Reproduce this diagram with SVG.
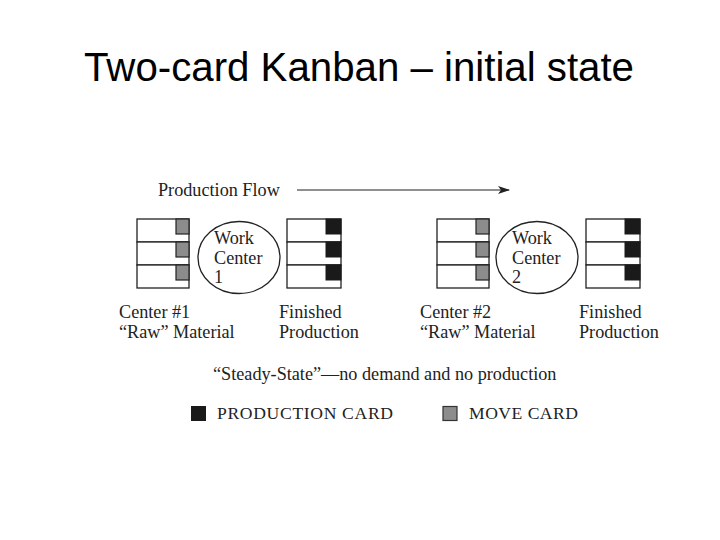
<svg xmlns="http://www.w3.org/2000/svg" width="720" height="540" viewBox="0 0 720 540">
<style>
.t{font-family:"Liberation Serif","Times New Roman",serif;font-size:18.2px;fill:#222}
.lg{font-size:17.6px}
.row{fill:#fff;stroke:#222;stroke-width:1.3}
.mv{fill:#8c8c8c;stroke:#222;stroke-width:1.2}
.pr{fill:#1a1a1a;stroke:#1a1a1a;stroke-width:1}
.wc{fill:#fff;stroke:#222;stroke-width:1.3}
</style>
<defs>
<marker id="ah" markerWidth="12" markerHeight="8" refX="11" refY="4" orient="auto" markerUnits="userSpaceOnUse">
<path d="M0,0 L12,4 L0,8 L3,4 Z" fill="#222"/>
</marker>
<g id="rawStack">
<rect class="row" x="0" y="0" width="52" height="23"/>
<rect class="row" x="0" y="23" width="52" height="23"/>
<rect class="row" x="0" y="46" width="52" height="23"/>
<rect class="mv" x="39" y="0" width="13" height="15"/>
<rect class="mv" x="39" y="23" width="13" height="15"/>
<rect class="mv" x="39" y="46" width="13" height="15"/>
</g>
<g id="finStack">
<rect class="row" x="0" y="0" width="54" height="23"/>
<rect class="row" x="0" y="23" width="54" height="23"/>
<rect class="row" x="0" y="46" width="54" height="23"/>
<rect class="pr" x="39" y="0" width="15" height="15"/>
<rect class="pr" x="39" y="23" width="15" height="15"/>
<rect class="pr" x="39" y="46" width="15" height="15"/>
</g>
</defs>
<rect width="720" height="540" fill="#fff"/>
<text x="359" y="81" text-anchor="middle" font-family="'Liberation Sans',Arial,sans-serif" font-size="40" fill="#000" textLength="550" lengthAdjust="spacingAndGlyphs">Two-card Kanban – initial state</text>

<g id="connectors">
<text class="t" x="158" y="196">Production Flow</text>
<line x1="297" y1="190" x2="509" y2="190" stroke="#222" stroke-width="1.2" marker-end="url(#ah)"/>
</g>

<g id="raw1">
<use href="#rawStack" x="137" y="219"/>
<text class="t" x="119" y="318">Center #1</text>
<text class="t" x="119" y="338">“Raw” Material</text>
</g>
<g id="wc1">
<ellipse class="wc" cx="239" cy="257.5" rx="41" ry="36"/>
<text class="t" x="214" y="244">Work</text>
<text class="t" x="214" y="264">Center</text>
<text class="t" x="214" y="283">1</text>
</g>
<g id="fin1">
<use href="#finStack" x="287" y="219"/>
<text class="t" x="279" y="318">Finished</text>
<text class="t" x="279" y="338">Production</text>
</g>

<g id="raw2">
<use href="#rawStack" x="437" y="219"/>
<text class="t" x="420" y="318">Center #2</text>
<text class="t" x="420" y="338">“Raw” Material</text>
</g>
<g id="wc2">
<ellipse class="wc" cx="537" cy="257.5" rx="41" ry="36"/>
<text class="t" x="512" y="244">Work</text>
<text class="t" x="512" y="264">Center</text>
<text class="t" x="512" y="283">2</text>
</g>
<g id="fin2">
<use href="#finStack" x="586" y="219"/>
<text class="t" x="579" y="318">Finished</text>
<text class="t" x="579" y="338">Production</text>
</g>

<g id="caption">
<text class="t" x="213" y="380">“Steady-State”—no demand and no production</text>
</g>
<g id="legend">
<rect x="191" y="406" width="15" height="15" fill="#1a1a1a"/>
<text class="t lg" x="217" y="419" textLength="176" lengthAdjust="spacing">PRODUCTION CARD</text>
<rect x="443" y="406.5" width="14" height="14" fill="#8c8c8c" stroke="#333" stroke-width="1.2"/>
<text class="t lg" x="469" y="419" textLength="109" lengthAdjust="spacing">MOVE CARD</text>
</g>
</svg>
